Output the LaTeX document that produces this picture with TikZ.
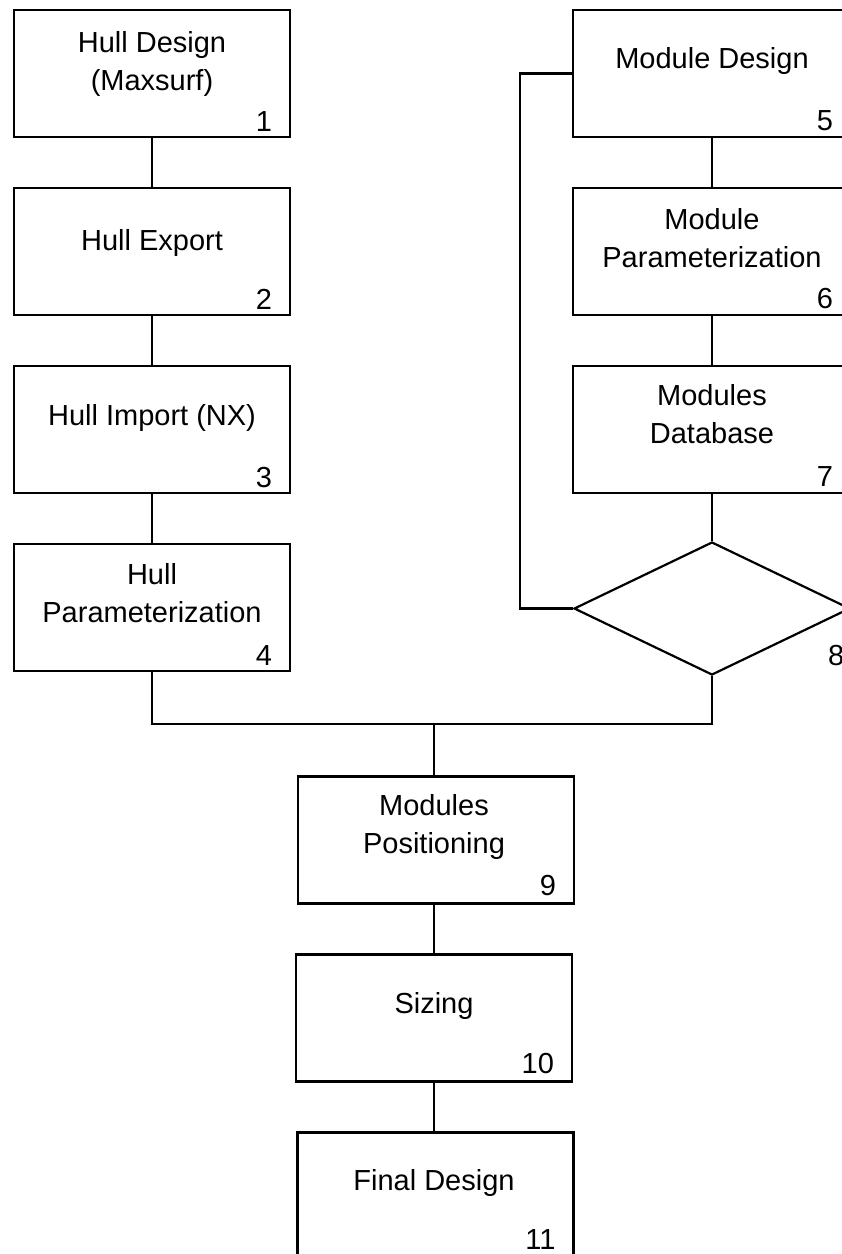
\documentclass[tikz,border=0pt]{standalone}
\usepackage{fontspec}
\setmainfont{Liberation Sans}
\usetikzlibrary{shapes.geometric}
\begin{document}
\begin{tikzpicture}[x=1pt,y=-1pt,
  boxnode/.style={draw=black,line width=2.2pt,rectangle,minimum width=276pt,minimum height=127pt,inner sep=0pt},
  dianode/.style={draw=black,line width=2.2pt,diamond,minimum width=276pt,minimum height=133pt,inner sep=0pt},
  txt/.style={font=\fontsize{29}{38}\selectfont,align=center,anchor=base,inner sep=0pt},
  num/.style={font=\fontsize{29}{38}\selectfont,anchor=base east,inner sep=0pt},
  conn/.style={draw=black,line width=2.2pt}]
\useasboundingbox (0,0) rectangle (842,1254);
\begin{scope}
\clip (0,0) rectangle (842,1254);
% left column
\node[boxnode] (b1) at (152,73.5) {};
\node[boxnode] (b2) at (152,251.5) {};
\node[boxnode] (b3) at (152,429.5) {};
\node[boxnode] (b4) at (152,607.5) {};
% right column
\node[boxnode,minimum width=278pt] (b5) at (712,73.5) {};
\node[boxnode,minimum width=278pt] (b6) at (712,251.5) {};
\node[boxnode,minimum width=278pt] (b7) at (712,429.5) {};
\node[dianode] (d8) at (712,608.5) {};
% bottom column
\node[boxnode] (b9) at (436,840) {};
\node[boxnode] (b10) at (434,1018) {};
\node[boxnode] (b11) at (435.5,1196) {};

% texts (anchor = baseline of last line)
\node[txt] (t1) at (152,90) {Hull Design\\(Maxsurf)};
\node[txt] (t2) at (152,250) {Hull Export};
\node[txt] (t3) at (152,425) {Hull Import (NX)};
\node[txt] (t4) at (152,622) {Hull\\Parameterization};
\node[txt] (t5) at (712,68) {Module Design};
\node[txt] (t6) at (712,267) {Module\\Parameterization};
\node[txt] (t7) at (712,443) {Modules\\Database};
\node[txt] (t9) at (434,853) {Modules\\Positioning};
\node[txt] (t10) at (434,1013) {Sizing};
\node[txt] (t11) at (434,1190) {Final Design};

% numbers
\node[num] (n1) at ([shift={(-19,-7)}]b1.south east) {1};
\node[num] (n2) at ([shift={(-19,-7)}]b2.south east) {2};
\node[num] (n3) at ([shift={(-19,-7)}]b3.south east) {3};
\node[num] (n4) at ([shift={(-19,-7)}]b4.south east) {4};
\node[num] (n5) at ([shift={(-19,-8)}]b5.south east) {5};
\node[num] (n6) at ([shift={(-19,-8)}]b6.south east) {6};
\node[num] (n7) at ([shift={(-19,-8)}]b7.south east) {7};
\node[num,anchor=base west] (n8) at (828,665) {8};
\node[num] (n9) at ([shift={(-19,-9)}]b9.south east) {9};
\node[num] (n10) at ([shift={(-19,-9)}]b10.south east) {10};
\node[num] (n11) at ([shift={(-19,-11)}]b11.south east) {11};

% connectors
\coordinate (jl) at (152,724);
\coordinate (jr) at (712,724);
\coordinate (jm) at (434,724);
\coordinate (fb) at (520,608.5);
\draw[conn] (b1.south) -- (b2.north);
\draw[conn] (b2.south) -- (b3.north);
\draw[conn] (b3.south) -- (b4.north);
\draw[conn] (b5.south) -- (b6.north);
\draw[conn] (b6.south) -- (b7.north);
\draw[conn] (b7.south) -- (d8.north);
\draw[conn] (b4.south) -- (jl) -- (jr) -- (d8.south);
\draw[conn] (jm) -- (b9.north -| jm);
\draw[conn] (d8.west) -- (fb) |- (b5.west);
\draw[conn] (b9.south -| b10.north) -- (b10.north);
\draw[conn] (b10.south) -- (b10.south |- b11.north);
\end{scope}
\end{tikzpicture}
\end{document}
